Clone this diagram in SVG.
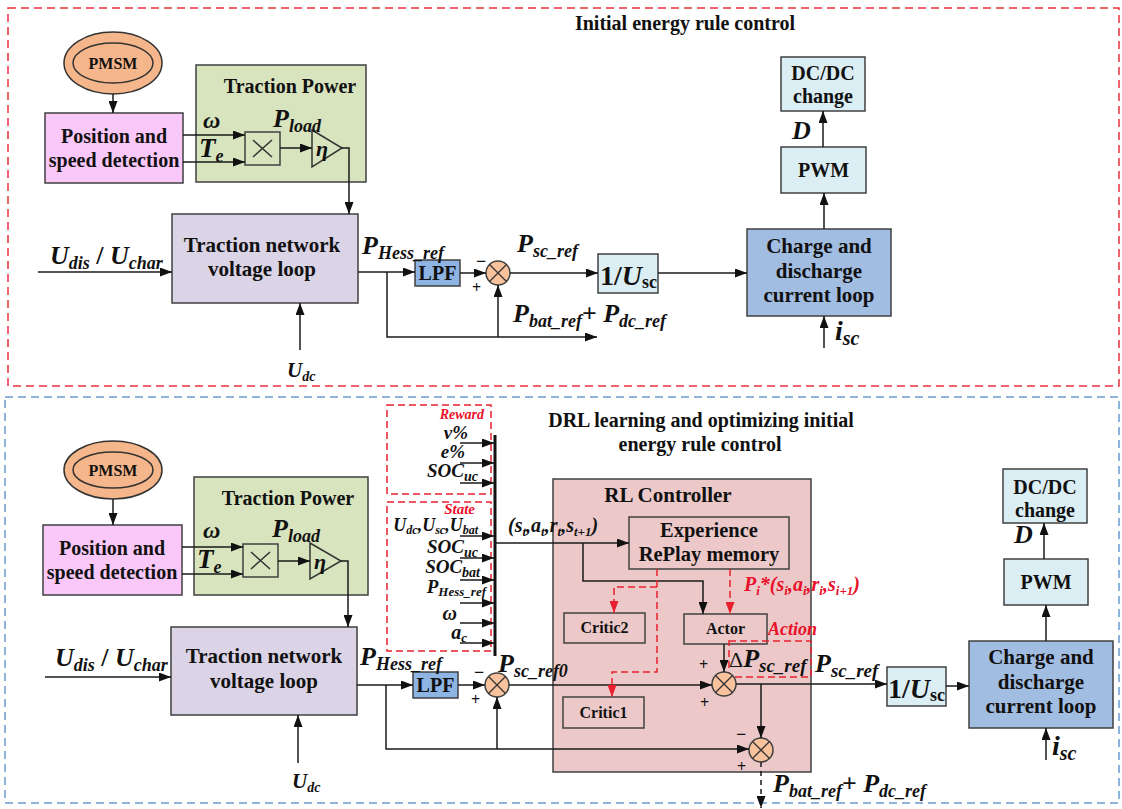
<svg xmlns="http://www.w3.org/2000/svg" width="1122" height="809" viewBox="0 0 1122 809" font-family="'Liberation Serif', 'DejaVu Serif', serif">
<style>
text{font-family:"Liberation Serif","DejaVu Serif",serif;font-weight:bold;fill:#111}
.c{text-anchor:middle}
.e{text-anchor:end}
.i{font-style:italic}
.n{font-style:normal}
.red{fill:#e8102a}
.box{stroke:#404040;stroke-width:1.5}
.ln{fill:none;stroke:#1a1a1a;stroke-width:1.5}
.ar{marker-end:url(#a)}
.rd{fill:none;stroke:#e8202e;stroke-width:1.5;stroke-dasharray:7,4}
.rda{marker-end:url(#ar)}
.sum{fill:#f8c29c;stroke:#404040;stroke-width:1.5}
.lb{fill:#dbeef4}
.b20{font-size:20px}
.b21{font-size:21px}
.b16{font-size:16px}
</style>
<defs>
<marker id="a" viewBox="0 0 12 9" refX="12" refY="4.5" markerWidth="12" markerHeight="9" orient="auto" markerUnits="userSpaceOnUse"><path d="M0,0L12,4.5L0,9z" fill="#111"/></marker>
<marker id="ar" viewBox="0 0 12 9" refX="12" refY="4.5" markerWidth="12" markerHeight="9" orient="auto" markerUnits="userSpaceOnUse"><path d="M0,0L12,4.5L0,9z" fill="#e8202e"/></marker>
</defs>
<rect width="1122" height="809" fill="#fff"/>

<!-- ===== TOP SECTION ===== -->
<g id="top-frame">
<rect x="8" y="8" width="1111" height="378" fill="none" stroke="#e8323c" stroke-width="1.5" stroke-dasharray="8,5"/>
<text x="685" y="30" class="c" font-size="20">Initial energy rule control</text>
</g>

<g id="t-pmsm">
<ellipse cx="113" cy="63" rx="49" ry="31" fill="#f4b68a" stroke="#333" stroke-width="1.5"/>
<ellipse cx="113" cy="63" rx="40" ry="20" fill="#f4b68a" stroke="#333" stroke-width="1.5"/>
<text x="113" y="69" class="c b16">PMSM</text>
</g>
<g id="t-pos">
<rect x="45" y="113" width="138" height="70" fill="#fac8f8" class="box"/>
<text x="114" y="143" class="c b20">Position and</text>
<text x="114" y="167" class="c b20">speed detection</text>
</g>
<g id="t-traction-power">
<rect x="196" y="65" width="170" height="117" fill="#d7e4bd" class="box"/>
<text x="290" y="93" class="c b20">Traction Power</text>
<rect x="245" y="132" width="35" height="33" fill="#d7e4bd" class="box"/>
<path d="M253,140L272,157M272,140L253,157" stroke="#333" stroke-width="1.5"/>
<polygon points="312,130 342,148 312,167" fill="#d7e4bd" stroke="#333" stroke-width="1.5"/>
<text x="316" y="156" class="i" font-size="22" font-weight="normal">η</text>
</g>
<g id="t-tnv">
<rect x="172" y="214" width="186" height="89" fill="#dad4e6" class="box"/>
<text x="262" y="252" class="c b21">Traction network</text>
<text x="262" y="276" class="c b21">voltage loop</text>
</g>
<g id="t-lpf">
<rect x="415" y="260" width="45" height="26" fill="#8eb4e3" class="box"/>
<text x="437.5" y="280" class="c b20">LPF</text>
</g>
<g id="t-sum">
<circle cx="498" cy="273" r="12" class="sum"/>
<path d="M489.5,264.5L506.5,281.5M506.5,264.5L489.5,281.5" stroke="#333" stroke-width="1.3"/>
<text x="476" y="267" font-size="18">−</text>
<text x="472" y="293" font-size="16">+</text>
</g>
<g id="t-inv">
<rect x="598" y="254" width="60" height="39" class="box lb"/>
<text x="600" y="285" font-size="28">1/<tspan class="i">U</tspan><tspan font-size="18" dy="3">sc</tspan></text>
</g>
<g id="t-charge">
<rect x="747" y="229" width="144" height="87" fill="#a2bde2" class="box"/>
<text x="819" y="253" class="c b21">Charge and</text>
<text x="819" y="278" class="c b21">discharge</text>
<text x="819" y="302" class="c b21">current loop</text>
</g>
<g id="t-pwm">
<rect x="781" y="147" width="85" height="46" class="box lb"/>
<text x="823.5" y="177" class="c b20">PWM</text>
</g>
<g id="t-dcdc">
<rect x="781" y="57" width="84" height="54" class="box lb"/>
<text x="823" y="80" class="c b20">DC/DC</text>
<text x="823" y="103" class="c b20">change</text>
</g>

<g id="t-labels">
<text x="203" y="128" class="i" font-size="24" font-weight="normal">ω</text>
<text x="199" y="157" class="i" font-size="27">T<tspan font-size="18" dy="5">e</tspan></text>
<text x="273" y="127" class="i" font-size="26">P<tspan font-size="18" dy="5">load</tspan></text>
<text x="50" y="264" class="i" font-size="26">U<tspan font-size="18" dy="5">dis</tspan><tspan class="n" dy="-5"> / </tspan>U<tspan font-size="18" dy="5">char</tspan></text>
<text x="287" y="377" class="i" font-size="21">U<tspan font-size="14" dy="4">dc</tspan></text>
<text x="362" y="254" class="i" font-size="26">P<tspan font-size="18" dy="5">Hess_ref</tspan></text>
<text x="517" y="252" class="i" font-size="26">P<tspan font-size="18" dy="5">sc_ref</tspan></text>
<text x="513" y="322" class="i" font-size="26">P<tspan font-size="18" dy="5">bat_ref</tspan><tspan class="n" dy="-5">+ </tspan>P<tspan font-size="18" dy="5">dc_ref</tspan></text>
<text x="792" y="139" class="i" font-size="26">D</text>
<text x="835" y="340" class="i" font-size="28">i<tspan font-size="20" dy="5">sc</tspan></text>
</g>

<g id="t-connectors">
<path class="ln ar" d="M113,94V113"/>
<path class="ln ar" d="M183,135H245"/>
<path class="ln ar" d="M183,162H245"/>
<path class="ln ar" d="M280,148H312"/>
<path class="ln ar" d="M342,148H349V214"/>
<path class="ln ar" d="M38,272H172"/>
<path class="ln ar" d="M300,350V303"/>
<path class="ln ar" d="M358,272H415"/>
<path class="ln ar" d="M387,272V337H597"/>
<path class="ln ar" d="M460,273H486"/>
<path class="ln ar" d="M498,337V285"/>
<path class="ln ar" d="M510,273H598"/>
<path class="ln ar" d="M658,273H747"/>
<path class="ln ar" d="M824,229V193"/>
<path class="ln ar" d="M823,147V111"/>
<path class="ln ar" d="M824,348V316"/>
</g>

<!-- ===== BOTTOM SECTION ===== -->
<g id="bottom-frame">
<rect x="5" y="397" width="1114" height="406" fill="none" stroke="#6a9ccf" stroke-width="1.5" stroke-dasharray="8,5"/>
<text x="701" y="427" class="c" font-size="20">DRL learning and optimizing initial</text>
<text x="700" y="451" class="c" font-size="20">energy rule control</text>
</g>

<g id="b-pmsm">
<ellipse cx="113" cy="470" rx="49" ry="29" fill="#f4b68a" stroke="#333" stroke-width="1.5"/>
<ellipse cx="113" cy="470" rx="40" ry="18" fill="#f4b68a" stroke="#333" stroke-width="1.5"/>
<text x="113" y="476" class="c b16">PMSM</text>
</g>
<g id="b-pos">
<rect x="43" y="525" width="139" height="70" fill="#fac8f8" class="box"/>
<text x="112" y="555" class="c b20">Position and</text>
<text x="112" y="579" class="c b20">speed detection</text>
</g>
<g id="b-traction-power">
<rect x="194" y="477" width="174" height="118" fill="#d7e4bd" class="box"/>
<text x="288" y="505" class="c b20">Traction Power</text>
<rect x="243" y="544" width="35" height="33" fill="#d7e4bd" class="box"/>
<path d="M251,552L270,569M270,552L251,569" stroke="#333" stroke-width="1.5"/>
<polygon points="310,543 341,561 310,579" fill="#d7e4bd" stroke="#333" stroke-width="1.5"/>
<text x="314" y="569" class="i" font-size="22" font-weight="normal">η</text>
</g>
<g id="b-tnv">
<rect x="171" y="627" width="186" height="88" fill="#dad4e6" class="box"/>
<text x="264" y="663" class="c b21">Traction network</text>
<text x="264" y="688" class="c b21">voltage loop</text>
</g>
<g id="b-lpf">
<rect x="413" y="672" width="45" height="26" fill="#8eb4e3" class="box"/>
<text x="435.5" y="692" class="c b20">LPF</text>
</g>
<g id="b-sum1">
<circle cx="497" cy="685" r="12" class="sum"/>
<path d="M488.5,676.5L505.5,693.5M505.5,676.5L488.5,693.5" stroke="#333" stroke-width="1.3"/>
<text x="474" y="678" font-size="18">−</text>
<text x="471" y="705" font-size="16">+</text>
</g>

<g id="b-reward">
<rect x="387" y="405" width="104" height="89" class="rd"/>
<text x="484" y="419" class="e i red" font-size="14">Reward</text>
<text x="468" y="439" class="e i" font-size="19">v%</text>
<text x="465" y="458" class="e i" font-size="19">e%</text>
<text x="478" y="477" class="e i" font-size="19">SOC<tspan font-size="14" dy="4">uc</tspan></text>
</g>
<g id="b-state">
<rect x="387" y="502" width="104" height="149" class="rd"/>
<text x="475" y="514" class="e i red" font-size="15">State</text>
<text x="478" y="531" class="e i" font-size="18">U<tspan font-size="12" dy="3">dc</tspan><tspan dy="-3">,U</tspan><tspan font-size="12" dy="3">sc</tspan><tspan dy="-3">,U</tspan><tspan font-size="12" dy="3">bat</tspan></text>
<text x="478" y="553" class="e i" font-size="19">SOC<tspan font-size="14" dy="4">uc</tspan></text>
<text x="480" y="573" class="e i" font-size="19">SOC<tspan font-size="14" dy="4">bat</tspan></text>
<text x="486" y="593" class="e i" font-size="19">P<tspan font-size="13" dy="3">Hess_ref</tspan></text>
<text x="457" y="620" class="e i" font-size="20" font-weight="normal">ω</text>
<text x="467" y="639" class="e i" font-size="20">a<tspan font-size="13" dy="3">c</tspan></text>
</g>
<g id="b-bus">
<path d="M495,435V656" stroke="#111" stroke-width="3"/>
</g>

<g id="b-rl">
<rect x="553" y="479" width="258" height="293" fill="#ecc9c8" class="box"/>
<text x="668" y="502" class="c b21">RL Controller</text>
</g>
<g id="b-exp">
<rect x="629" y="517" width="160" height="52" fill="#ecc9c8" class="box"/>
<text x="709" y="537" class="c" font-size="20.5">Experience</text>
<text x="709" y="561" class="c" font-size="20.5">RePlay memory</text>
</g>
<g id="b-actor">
<rect x="684" y="614" width="83" height="30" fill="#ecc9c8" class="box"/>
<text x="725.5" y="634" class="c b16">Actor</text>
</g>
<g id="b-critic2">
<rect x="564" y="613" width="81" height="30" fill="#ecc9c8" class="box"/>
<text x="604.5" y="633" class="c b16">Critic2</text>
</g>
<g id="b-critic1">
<rect x="563" y="697" width="81" height="31" fill="#ecc9c8" class="box"/>
<text x="603.5" y="718" class="c b16">Critic1</text>
</g>
<g id="b-action">
<rect x="729" y="641" width="82" height="36" class="rd"/>
<text x="768" y="635" class="i red" font-size="18">Action</text>
</g>
<g id="b-sum2">
<circle cx="724" cy="684" r="12" class="sum"/>
<path d="M715.5,675.5L732.5,692.5M732.5,675.5L715.5,692.5" stroke="#333" stroke-width="1.3"/>
<text x="699" y="670" font-size="16">+</text>
<text x="700" y="708" font-size="16">+</text>
</g>
<g id="b-sum3">
<circle cx="761" cy="750" r="12" class="sum"/>
<path d="M752.5,741.5L769.5,758.5M769.5,741.5L752.5,758.5" stroke="#333" stroke-width="1.3"/>
<text x="736" y="740" font-size="18">−</text>
<text x="737" y="772" font-size="16">+</text>
</g>
<g id="b-inv">
<rect x="887" y="667" width="59" height="39" class="box lb"/>
<text x="888" y="698" font-size="28">1/<tspan class="i">U</tspan><tspan font-size="18" dy="3">sc</tspan></text>
</g>
<g id="b-charge">
<rect x="969" y="641" width="144" height="87" fill="#a2bde2" class="box"/>
<text x="1041" y="664" class="c b21">Charge and</text>
<text x="1041" y="689" class="c b21">discharge</text>
<text x="1041" y="713" class="c b21">current loop</text>
</g>
<g id="b-pwm">
<rect x="1004" y="559" width="84" height="46" class="box lb"/>
<text x="1046" y="589" class="c b20">PWM</text>
</g>
<g id="b-dcdc">
<rect x="1003" y="469" width="84" height="54" class="box lb"/>
<text x="1045" y="494" class="c b20">DC/DC</text>
<text x="1045" y="517" class="c b20">change</text>
</g>

<g id="b-labels">
<text x="203" y="538" class="i" font-size="24" font-weight="normal">ω</text>
<text x="197" y="568" class="i" font-size="27">T<tspan font-size="18" dy="5">e</tspan></text>
<text x="272" y="537" class="i" font-size="26">P<tspan font-size="18" dy="5">load</tspan></text>
<text x="55" y="666" class="i" font-size="26">U<tspan font-size="18" dy="5">dis</tspan><tspan class="n" dy="-5"> / </tspan>U<tspan font-size="18" dy="5">char</tspan></text>
<text x="292" y="788" class="i" font-size="21">U<tspan font-size="14" dy="4">dc</tspan></text>
<text x="360" y="665" class="i" font-size="26">P<tspan font-size="18" dy="5">Hess_ref</tspan></text>
<text x="498" y="672" class="i" font-size="26">P<tspan font-size="18" dy="5">sc_ref0</tspan></text>
<text x="508" y="532" class="i" font-size="20">(s<tspan font-size="13" dy="4">t</tspan><tspan dy="-4">,a</tspan><tspan font-size="13" dy="4">t</tspan><tspan dy="-4">,r</tspan><tspan font-size="13" dy="4">t</tspan><tspan dy="-4">,s</tspan><tspan font-size="13" dy="4">t+1</tspan><tspan dy="-4">)</tspan></text>
<text x="744" y="591" class="i red" font-size="20">P<tspan font-size="13" dy="4">i</tspan><tspan dy="-4">*(s</tspan><tspan font-size="13" dy="4">i</tspan><tspan dy="-4">,a</tspan><tspan font-size="13" dy="4">i</tspan><tspan dy="-4">,r</tspan><tspan font-size="13" dy="4">i</tspan><tspan dy="-4">,s</tspan><tspan font-size="13" dy="4">i+1</tspan><tspan dy="-4">)</tspan></text>
<text x="729" y="667" class="i" font-size="26"><tspan class="n" font-weight="normal" font-size="22">Δ</tspan>P<tspan font-size="19" dy="5">sc_ref</tspan></text>
<text x="815" y="672" class="i" font-size="26">P<tspan font-size="19" dy="5">sc_ref</tspan></text>
<text x="773" y="792" class="i" font-size="26">P<tspan font-size="18" dy="5">bat_ref</tspan><tspan class="n" dy="-5">+ </tspan>P<tspan font-size="18" dy="5">dc_ref</tspan></text>
<text x="1014" y="543" class="i" font-size="26">D</text>
<text x="1052" y="755" class="i" font-size="28">i<tspan font-size="20" dy="5">sc</tspan></text>
</g>

<g id="b-connectors">
<path class="ln ar" d="M113,499V525"/>
<path class="ln ar" d="M182,547H243"/>
<path class="ln ar" d="M182,574H243"/>
<path class="ln ar" d="M278,561H310"/>
<path class="ln ar" d="M341,561H348V627"/>
<path class="ln ar" d="M45,677H171"/>
<path class="ln ar" d="M298,763V715"/>
<path class="ln ar" d="M357,685H413"/>
<path class="ln ar" d="M386,685V749H749"/>
<path class="ln ar" d="M458,685H485"/>
<path class="ln ar" d="M497,749V697"/>
<path class="ln ar" d="M509,685H712"/>
<path class="ln ar" d="M460,443H494"/>
<path class="ln ar" d="M460,463H494"/>
<path class="ln ar" d="M460,483H494"/>
<path class="ln ar" d="M460,536H494"/>
<path class="ln ar" d="M460,558H494"/>
<path class="ln ar" d="M460,580H494"/>
<path class="ln ar" d="M460,603H494"/>
<path class="ln ar" d="M460,623H494"/>
<path class="ln ar" d="M460,643H494"/>
<path class="ln ar" d="M495,543H629"/>
<path class="ln ar" d="M583,543V581H703V614"/>
<path class="rd rda" d="M657,569V672H612V697"/>
<path class="rd rda" d="M657,587H614V613"/>
<path class="rd rda" d="M730,569V614"/>
<path class="ln ar" d="M724,644V672"/>
<path class="ln ar" d="M736,684H887"/>
<path class="ln ar" d="M761,684V738"/>
<path class="ln ar" d="M761,762V808" stroke-dasharray="5,4"/>
<path class="ln ar" d="M946,686H969"/>
<path class="ln ar" d="M1046,641V605"/>
<path class="ln ar" d="M1044,559V523"/>
<path class="ln ar" d="M1046,760V728"/>
</g>
</svg>
